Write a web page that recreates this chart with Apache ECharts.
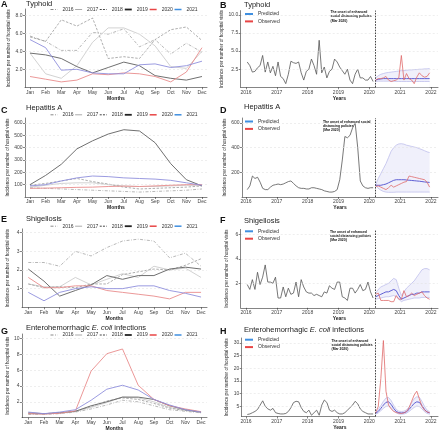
<!DOCTYPE html>
<html><head><meta charset="utf-8">
<script src="https://cdn.jsdelivr.net/npm/echarts@6/dist/echarts.min.js"></script>
<style>html,body{margin:0;padding:0;background:#fff}#c{width:440px;height:432px}</style>
</head><body><div id="c"></div>
<script>
// ---------- labels ----------
const monthLabels = ['Jan','Feb','Mar','Apr','May','Jun','Jul','Aug','Sep','Oct','Nov','Dec'];
const seasonYears = ['2016','2017','2018','2019','2020','2021'];
const yearTicks = [2016,2017,2018,2019,2020,2021,2022];
const onsetYear = 2020.2;
const yTicksA = [2,4,6,8];
const yTicksB = [2.5,5,7.5,10];
const yTicksC = [100,200,300,400,500,600];
const yTicksD = [200,400,600];
const yTicksE = [1,2,3,4];
const yTicksF = [2,4,6];
const yTicksG = [2,4,6,8,10];
const yTicksH = [5,10,15,20,25,30];

// ---------- monthly incidence by year (2016..2021) ----------
const typhoidMonthly = [
  [5.7,5.1,4.1,4.1,6.1,5.9,6.5,4.5,5.3,3.7,4.9,3.9],
  [3.8,1.5,1.0,2.4,5.0,6.6,6.6,5.9,4.6,2.3,2.1,4.0],
  [5.6,5.1,7.5,6.8,7.7,3.2,3.4,3.2,5.3,6.4,6.7,5.2],
  [3.8,3.6,3.2,2.3,1.6,2.2,2.8,2.4,1.3,1.0,0.8,1.2],
  [1.2,0.9,0.6,0.8,1.5,1.4,1.6,1.5,1.2,0.6,1.7,4.4],
  [5.3,4.4,1.9,2.0,1.6,1.5,1.5,2.5,2.6,2.2,2.4,2.9]
];
const hepAMonthly = [
  [75,70,65,60,55,50,45,40,45,50,55,65],
  [80,95,110,115,115,100,90,85,85,90,95,95],
  [95,110,130,150,125,105,80,65,70,75,80,90],
  [100,175,265,390,455,510,545,535,440,270,140,90],
  [70,72,75,78,80,85,88,85,90,95,100,100],
  [90,100,130,155,170,165,155,150,145,135,115,95]
];
const shigMonthly = [
  [2.4,2.4,2.2,3.0,2.75,3.2,3.55,3.65,3.55,2.65,2.9,2.2],
  [1.25,1.1,1.1,1.6,1.2,1.5,1.8,1.6,2.2,2.0,2.1,1.6],
  [1.25,1.05,1.1,1.05,1.25,1.25,1.75,1.9,2.05,2.0,2.25,2.6],
  [2.05,1.4,0.6,0.9,1.2,1.7,1.5,1.7,1.7,2.05,2.15,2.05],
  [1.6,1.05,1.05,1.15,1.15,0.9,0.8,0.7,0.6,0.45,0.8,0.8],
  [0.8,0.35,0.8,1.0,1.1,1.0,1.0,1.15,1.15,0.9,0.75,0.55]
];
const ehecMonthly = [
  [0.4,0.4,0.5,0.7,1.1,1.6,2.2,2.0,1.5,1.0,0.8,0.6],
  [0.5,0.45,0.6,0.75,1.3,1.9,2.6,2.5,2.0,1.3,0.9,0.7],
  [0.5,0.5,0.6,0.8,1.4,2.1,2.5,2.3,1.8,1.2,0.9,0.7],
  [0.6,0.5,0.6,0.8,1.5,2.0,2.6,2.6,2.3,1.5,1.0,0.7],
  [0.5,0.45,0.55,0.85,5.9,8.1,8.7,4.1,2.3,1.5,1.1,0.75],
  [0.7,0.5,0.7,1.0,2.2,3.6,4.1,3.5,2.3,1.6,1.0,0.7]
];

// ---------- monthly series Jan 2016 .. Feb 2020 ----------
const typhoidPre = [3.5,3.0,2.1,2.2,2.7,3.0,4.4,2.1,3.5,2.0,2.9,1.6,
  3.5,1.5,1.2,0.5,1.8,3.6,3.4,3.3,3.5,2.0,1.0,2.2,
  2.5,3.9,3.0,1.8,6.5,2.0,2.8,1.3,2.2,2.5,3.9,3.5,
  2.8,2.3,1.8,2.5,1.0,0.5,1.8,2.5,1.3,1.3,1.0,1.0,
  1.5,0.8];
const hepAPre = [60,90,170,150,160,120,70,60,60,80,95,100,
  105,100,105,115,125,130,110,90,75,70,70,65,
  65,75,75,70,65,60,50,45,40,40,45,60,
  140,300,490,480,500,560,600,400,130,90,75,70,
  75,75];
const shigPre = [1.9,1.5,2.3,1.5,2.9,1.9,2.5,3.5,2.1,2.1,2.0,2.5,
  0.8,0.8,1.7,0.9,1.6,1.1,1.2,2.1,0.9,2.3,1.7,1.3,
  1.2,1.2,1.0,1.1,1.0,0.9,1.3,1.2,1.8,1.6,1.5,2.1,
  2.1,0.9,0.8,0.6,1.6,1.6,1.2,1.5,1.9,1.4,1.5,2.1,
  1.3,0.8];
const ehecPre = [1.8,2.0,2.5,3.0,3.8,5.5,7.2,5.0,4.0,3.5,4.2,2.5,
  2.2,2.0,2.0,2.2,3.0,4.5,6.5,7.0,6.8,4.5,3.0,2.5,
  3.5,1.5,2.5,3.5,1.5,5.5,7.5,6.5,3.5,3.0,3.5,2.5,
  2.0,2.0,2.5,3.5,4.5,5.5,7.0,6.0,4.0,3.0,2.5,2.0,
  2.0,2.0];

// ---------- Mar 2020 .. Dec 2021: observed, predicted, 95% bounds ----------
const typhoidObs  = [1.0,1.2,1.2,1.3,1.5,1.0,0.8,0.9,1.0,1.3,4.4,1.0,1.9,1.2,1.0,0.5,1.4,2.0,1.6,1.4,1.5,2.0];
const typhoidPred = [1.0,1.1,1.15,1.2,1.2,1.2,1.2,1.2,1.2,1.2,1.2,1.2,1.2,1.2,1.2,1.2,1.2,1.2,1.2,1.2,1.2,1.2];
const typhoidLo   = [0.8,0.85,0.85,0.85,0.85,0.85,0.85,0.85,0.8,0.8,0.8,0.8,0.8,0.8,0.8,0.8,0.8,0.8,0.8,0.8,0.8,0.8];
const typhoidHi   = [1.3,1.6,1.8,1.9,2.0,2.05,2.1,2.15,2.2,2.25,2.3,2.3,2.35,2.4,2.4,2.45,2.45,2.5,2.5,2.55,2.55,2.6];

const hepAObs  = [85,90,80,70,60,75,95,80,90,100,110,120,125,170,165,160,155,150,145,140,120,80];
const hepAPred = [95,95,95,100,105,115,125,135,140,140,140,140,138,136,134,132,130,128,125,122,120,118];
const hepALo   = [95,70,55,45,40,38,38,38,40,40,40,40,40,40,40,40,40,40,40,40,40,40];
const hepAHi   = [100,150,190,230,270,320,370,400,420,430,432,428,420,415,410,405,400,392,384,375,366,360];

const shigObs  = [1.1,1.2,0.6,0.6,0.6,0.6,0.5,0.5,1.0,0.7,0.7,1.4,0.9,1.0,1.2,1.0,1.1,1.2,1.3,1.0,0.8,0.7];
const shigPred = [0.9,1.0,1.1,1.2,1.3,1.3,1.4,1.5,1.4,1.0,0.7,0.8,0.9,1.0,1.1,1.1,1.2,1.2,1.3,1.3,1.3,1.3];
const shigLo   = [0.7,0.75,0.8,0.85,0.9,0.9,0.95,1.0,0.9,0.7,0.5,0.6,0.65,0.7,0.75,0.8,0.8,0.8,0.85,0.85,0.85,0.85];
const shigHi   = [1.2,1.5,1.7,1.8,1.9,2.0,2.2,2.4,2.3,1.6,1.0,1.3,1.6,1.8,2.0,2.2,2.5,2.8,3.1,3.2,3.2,3.1];

const ehecObs  = [2.5,5,16,31,11,5.5,4,3,2.6,2.3,2.2,2.4,3,4.5,7,9.5,11,8,5,3.5,2.8,2.5];
const ehecPred = [2.3,3.0,4.2,5.5,6.6,6.8,5.8,4.2,3.0,2.5,2.4,2.5,2.9,3.8,5.0,6.2,6.8,6.6,5.3,3.8,2.8,2.4];
const ehecLo   = [1.9,2.4,3.3,4.2,5.0,5.1,4.5,3.3,2.4,2.0,1.9,2.0,2.3,3.0,3.8,4.6,5.1,4.9,4.0,2.9,2.2,1.9];
const ehecHi   = [2.8,3.8,5.3,7.0,8.3,8.5,7.3,5.4,3.8,3.1,3.0,3.1,3.6,4.8,6.4,8.0,8.8,8.6,7.0,5.0,3.5,2.9];

// ---------- styling / layout ----------
const FONT = '"Liberation Sans", Arial, Helvetica, sans-serif';
const AX = '#333';
const yearStyles = [
  {color:'#a6a6a6', width:0.8, type:[3,1.5,0.8,1.5]},
  {color:'#c6c6c6', width:0.8, type:'solid'},
  {color:'#999999', width:0.8, type:[2.5,1.5]},
  {color:'#707070', width:1.0, type:'solid'},
  {color:'#e98c8c', width:0.9, type:'solid'},
  {color:'#9090dc', width:0.9, type:'solid'}
];
const yearLegendStyles = [
  {color:'#888', width:1, type:[3,1.5,0.8,1.5]},
  {color:'#aaa', width:1, type:'solid'},
  {color:'#444', width:1, type:[2,1.2]},
  {color:'#222', width:1.8, type:'solid'},
  {color:'#e84545', width:1.5, type:'solid'},
  {color:'#3f8fe0', width:1.5, type:'solid'}
];

const leftPanels = [
  {letter:'A', title:'Typhoid', data:typhoidMonthly, ticks:yTicksA, dec:1,
   grid:{left:25,right:233,top:9,bottom:344.7}, x:[0.68,12.32], y:[0,8.7], nameGap:14, titleTop:0, letterTop:0, legendTop:7},
  {letter:'C', title:'Hepatitis A', data:hepAMonthly, ticks:yTicksC, dec:0,
   grid:{left:25,right:233,top:118,bottom:235}, x:[0.68,12.32], y:[0,640], nameGap:14, titleTop:103.5, letterTop:106, legendTop:112.3},
  {letter:'E', title:'Shigellosis', data:shigMonthly, ticks:yTicksE, dec:0,
   grid:{left:22,right:233,top:228.9,bottom:124.7}, x:[0.6,12.38], y:[0,4.2], nameGap:12, titleTop:215, letterTop:215, legendTop:223.7},
  {letter:'G', title:'ehec', data:ehecMonthly, ticks:yTicksG, dec:0,
   grid:{left:22,right:233,top:334,bottom:13.5}, x:[0.6,12.38], y:[0,10.6], nameGap:12, titleTop:323.5, letterTop:327, legendTop:332.5}
];
const rightPanels = [
  {letter:'B', title:'Typhoid', pre:typhoidPre, obs:typhoidObs, pred:typhoidPred, lo:typhoidLo, hi:typhoidHi, ticks:yTicksB, dec:1,
   grid:{left:240.7,right:2,top:10.6,bottom:344.7}, x:[2015.83,2022.23], y:[0,10.6], nameGap:11, titleTop:0.5, letterTop:1,
   legendTop:11.5, note:'The onset of enhanced\nsocial distancing policies\n(Mar 2020)', noteX:330.5, noteY:10},
  {letter:'D', title:'Hepatitis A', pre:hepAPre, obs:hepAObs, pred:hepAPred, lo:hepALo, hi:hepAHi, ticks:yTicksD, dec:0,
   grid:{left:242,right:2,top:118,bottom:235}, x:[2015.87,2022.23], y:[0,640], nameGap:12, titleTop:103, letterTop:106,
   legendTop:119, note:'The onset of enhanced social\ndistancing policies\n(Mar 2020)', noteX:323, noteY:119.5},
  {letter:'F', title:'Shigellosis', pre:shigPre, obs:shigObs, pred:shigPred, lo:shigLo, hi:shigHi, ticks:yTicksF, dec:0,
   grid:{left:240.7,right:2,top:229.4,bottom:124.2}, x:[2015.83,2022.23], y:[0,6.4], nameGap:11, titleTop:217, letterTop:216,
   legendTop:228.8, note:'The onset of enhanced\nsocial distancing policies\n(Mar 2020)', noteX:330, noteY:229.5},
  {letter:'H', title:'ehec', pre:ehecPre, obs:ehecObs, pred:ehecPred, lo:ehecLo, hi:ehecHi, ticks:yTicksH, dec:0,
   grid:{left:241.7,right:2,top:338,bottom:15.5}, x:[2015.86,2022.23], y:[1,32], nameGap:12, titleTop:325.5, letterTop:327,
   legendTop:337.2, note:'The onset of enhanced\nsocial distancing policies\n(Mar 2020)', noteX:331.5, noteY:338.5}
];

const grids = [], xAxes = [], yAxes = [], series = [], titles = [], legends = [], graphics = [];
const monthNums = monthLabels.map((m, i) => i + 1);

function axisBase() {
  return {
    axisLine:{show:true, onZero:false, lineStyle:{color:AX, width:0.6}},
    splitLine:{show:false}
  };
}
function addTitle(p, left, letterLeft) {
  titles.push({text:p.letter, left:letterLeft, top:p.letterTop, padding:0,
    textStyle:{fontSize:9, fontWeight:'bold', color:'#111', fontFamily:FONT}});
  const t = p.title === 'ehec'
    ? {text:'{n|Enterohemorrhagic }{i|E. coli}{n| infections}', left:left, top:p.titleTop, padding:0,
       textStyle:{fontSize:7.5, fontWeight:'normal', color:'#222', fontFamily:FONT,
         rich:{n:{fontSize:7.5, fontWeight:'normal', color:'#222', fontFamily:FONT},
               i:{fontSize:7.5, fontWeight:'normal', fontStyle:'italic', color:'#222', fontFamily:FONT}}}}
    : {text:p.title, left:left, top:p.titleTop, padding:0,
       textStyle:{fontSize:7.5, fontWeight:'normal', color:'#222', fontFamily:FONT}};
  titles.push(t);
}
function gridLines(gi, ticks) {
  return {type:'line', xAxisIndex:gi, yAxisIndex:gi, data:[], silent:true, z:1,
    markLine:{silent:true, symbol:['none','none'], label:{show:false}, animation:false,
      lineStyle:{type:[2,2], color:'#e3e3e3', width:0.6},
      data: ticks.map(v => ({yAxis:v}))}};
}
function yAxisFor(p, gi) {
  return Object.assign(axisBase(), {
    gridIndex:gi, type:'value', min:p.y[0], max:p.y[1],
    axisTick:{show:true, length:2, customValues:p.ticks, lineStyle:{color:AX, width:0.6}},
    axisLabel:{customValues:p.ticks, formatter:v => Number(v).toFixed(p.dec), fontSize:5, color:'#444', margin:2.5, fontFamily:FONT},
    name:'Incidence per number of hospital visits', nameLocation:'middle', nameGap:p.nameGap,
    nameTextStyle:{fontSize:4.6, color:'#222', fontFamily:FONT}
  });
}

leftPanels.forEach((p, k) => {
  const gi = grids.length;
  grids.push(Object.assign({containLabel:false}, p.grid));
  xAxes.push(Object.assign(axisBase(), {
    gridIndex:gi, type:'value', min:p.x[0], max:p.x[1],
    axisTick:{show:true, length:2, customValues:monthNums, lineStyle:{color:AX, width:0.6}},
    axisLabel:{customValues:monthNums, formatter:v => monthLabels[Math.round(v) - 1], fontSize:5, color:'#444', margin:2.5, fontFamily:FONT},
    name:'Months', nameLocation:'middle', nameGap:7,
    nameTextStyle:{fontSize:5, fontWeight:'bold', color:'#222', fontFamily:FONT}
  }));
  yAxes.push(yAxisFor(p, gi));
  series.push(gridLines(gi, p.ticks));
  p.data.forEach((vals, yi) => {
    const st = yearStyles[yi];
    series.push({type:'line', name:seasonYears[yi], xAxisIndex:gi, yAxisIndex:gi,
      data: vals.map((v, j) => [monthNums[j], v]), symbol:'none', color:st.color,
      lineStyle:{color:st.color, width:st.width, type:st.type}, z:2 + yi});
  });
  addTitle(p, 26, 1);
  legends.push({left:50, top:p.legendTop, padding:0, itemGap:1, itemWidth:7, itemHeight:5,
    textStyle:{fontSize:5, color:'#333', fontFamily:FONT}, selectedMode:false,
    data: seasonYears.map((y, yi) => ({name:y,
      lineStyle:yearLegendStyles[yi], itemStyle:{color:yearLegendStyles[yi].color, opacity:0, borderWidth:0}}))});
});

rightPanels.forEach((p, k) => {
  const gi = grids.length;
  grids.push(Object.assign({containLabel:false}, p.grid));
  xAxes.push(Object.assign(axisBase(), {
    gridIndex:gi, type:'value', min:p.x[0], max:p.x[1],
    axisTick:{show:true, length:2, customValues:yearTicks, lineStyle:{color:AX, width:0.6}},
    axisLabel:{customValues:yearTicks, formatter:v => String(Math.round(v)), fontSize:5, color:'#444', margin:2.5, fontFamily:FONT},
    name:'Years', nameLocation:'middle', nameGap:7,
    nameTextStyle:{fontSize:5, fontWeight:'bold', color:'#222', fontFamily:FONT}
  }));
  yAxes.push(yAxisFor(p, gi));
  const tPre = i => 2016 + (i + 0.5) / 12;
  const tPost = i => 2020 + (i + 2.5) / 12;
  // band: upper filled, lower masks with white
  series.push({type:'line', name:'Upper', xAxisIndex:gi, yAxisIndex:gi, symbol:'none',
    data:p.hi.map((v, i) => [tPost(i), v]), color:'#b8b8ea', lineStyle:{color:'#b8b8ea', width:0.7},
    areaStyle:{color:'#f0f0fb', opacity:1, origin:'start'}, z:1});
  series.push({type:'line', name:'Lower', xAxisIndex:gi, yAxisIndex:gi, symbol:'none',
    data:p.lo.map((v, i) => [tPost(i), v]), color:'#b8b8ea', lineStyle:{color:'#b8b8ea', width:0.7},
    areaStyle:{color:'#ffffff', opacity:1, origin:'start'}, z:1});
  series.push(gridLines(gi, p.ticks));
  series.push({type:'line', name:'History', xAxisIndex:gi, yAxisIndex:gi, symbol:'none',
    data:p.pre.map((v, i) => [tPre(i), v]), color:'#555', lineStyle:{color:'#555', width:0.8}, z:3});
  series.push({type:'line', name:'Predicted', xAxisIndex:gi, yAxisIndex:gi, symbol:'none',
    data:p.pred.map((v, i) => [tPost(i), v]), color:'#5f5fd4', lineStyle:{color:'#5f5fd4', width:1}, z:4});
  series.push({type:'line', name:'Observed', xAxisIndex:gi, yAxisIndex:gi, symbol:'none',
    data:p.obs.map((v, i) => [tPost(i), v]), color:'#e06a6a', lineStyle:{color:'#e06a6a', width:0.8}, z:5,
    markLine:{silent:true, symbol:['none','none'], label:{show:false}, animation:false,
      lineStyle:{type:[1.6,1.2], color:'#111', width:0.8}, data:[{xAxis:onsetYear}]}});
  addTitle(p, 244, 220);
  legends.push({left:245, top:p.legendTop, orient:'vertical', padding:0, itemGap:2.4, itemWidth:8, itemHeight:2,
    textStyle:{fontSize:5, color:'#333', fontFamily:FONT}, selectedMode:false,
    data:[{name:'Predicted', icon:'rect', itemStyle:{color:'#3f8fe0'}},
          {name:'Observed', icon:'rect', itemStyle:{color:'#e84545'}}]});
  graphics.push({type:'text', left:p.noteX, top:p.noteY, silent:true,
    style:{text:p.note, fontSize:3.4, fontWeight:'bold', fontFamily:FONT, fill:'#111', lineHeight:4.3}});
});

const chart = echarts.init(document.getElementById('c'), null, {renderer:'canvas', width:440, height:432});
chart.setOption({
  backgroundColor:'#fff', animation:false,
  title:titles, legend:legends, grid:grids, xAxis:xAxes, yAxis:yAxes, series:series, graphic:graphics
});
</script></body></html>
